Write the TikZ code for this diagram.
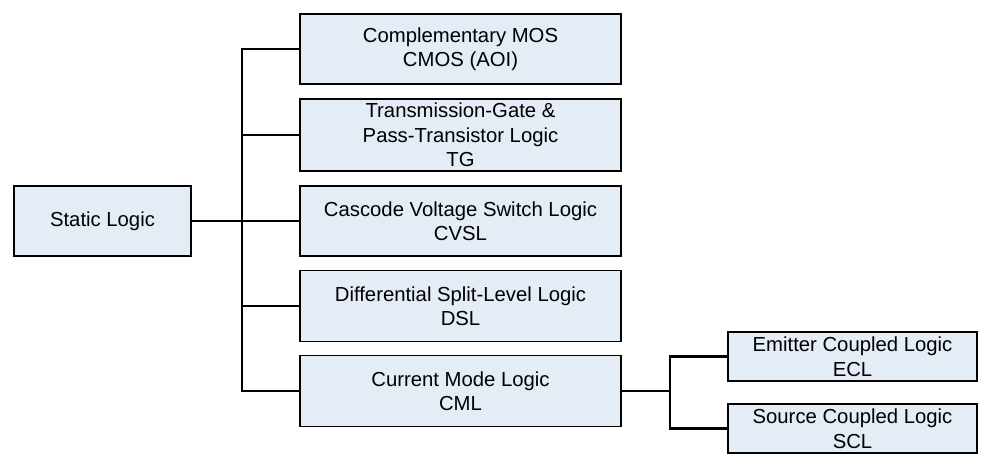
\documentclass[tikz,border=0pt]{standalone}
\usepackage{fontspec}
\setmainfont{Liberation Sans}
\usepackage{tikz}
\usetikzlibrary{positioning}

\definecolor{boxfill}{RGB}{228,236,246}

\begin{document}
\begin{tikzpicture}[x=1pt, y=-1pt,
  logicbox/.style={draw, line width=1.1, fill=boxfill, inner sep=0, outer sep=0,
    align=center, font=\fontsize{20.3}{24.5}\selectfont},
  colbox/.style={logicbox, minimum width=321, minimum height=70},
  subbox/.style={logicbox, minimum width=249, minimum height=49},
  conn/.style={line width=2.4}]

\useasboundingbox (0,0) rectangle (982,460);

\node[logicbox, minimum width=177, minimum height=70] (static)
  at (102.5,221) {Static Logic};

\node[colbox] (cmos) at (460.5,49) {Complementary MOS\\CMOS (AOI)};
\node[colbox, minimum height=72] (tg) at (460.5,135)
  {Transmission-Gate \&\\Pass-Transistor Logic\\TG};
\node[colbox] (cvsl) at (460.5,221) {Cascode Voltage Switch Logic\\CVSL};
\node[colbox, minimum height=71] (dsl) at (460.5,306)
  {Differential Split-Level Logic\\DSL};
\node[colbox, minimum height=71] (cml) at (460.5,391)
  {Current Mode Logic\\CML};

\node[subbox] (ecl) at (852.5,356.5) {Emitter Coupled Logic\\ECL};
\node[subbox] (scl) at (852.5,428.5) {Source Coupled Logic\\SCL};

% trunk of the static family
\coordinate (jA) at (242,0);
\draw[conn] (cmos.west) -- (cmos.west -| jA) |- (cml.west);
\draw[conn] (tg.west) -- (tg.west -| jA);
\draw[conn] (cvsl.west) -- (cvsl.west -| jA);
\draw[conn] (dsl.west) -- (dsl.west -| jA);
\draw[conn] (static.east) -- (static.east -| jA);

% current mode split
\coordinate (jB) at (670,0);
\draw[conn] (ecl.west) -- (ecl.west -| jB) |- (scl.west);
\draw[conn] (cml.east) -- (cml.east -| jB);

\end{tikzpicture}
\end{document}
